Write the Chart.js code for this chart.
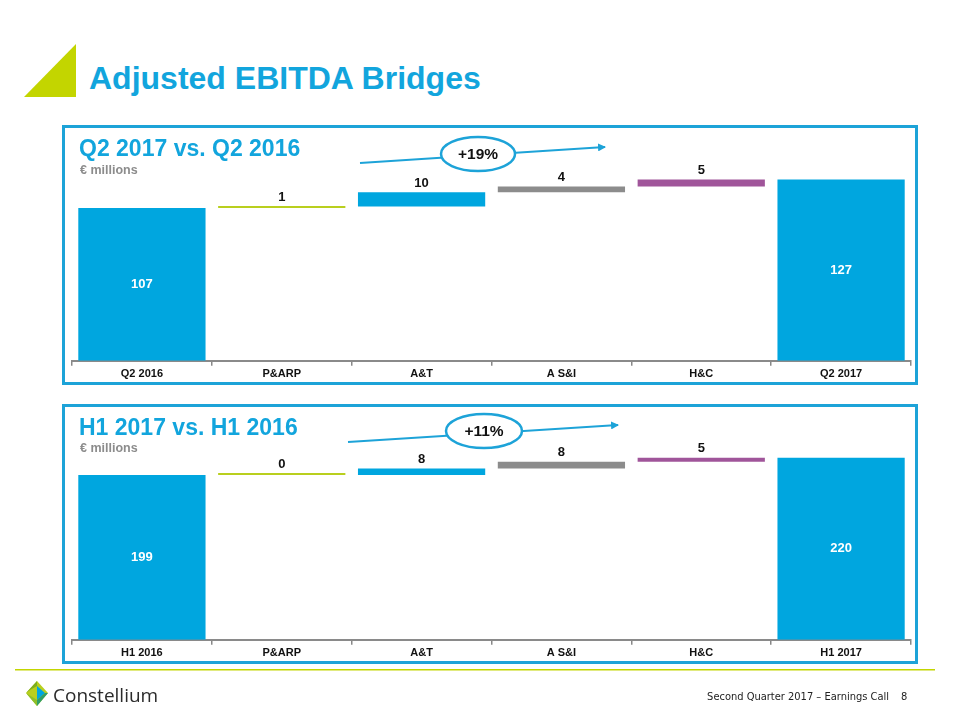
<!DOCTYPE html>
<html>
<head>
<meta charset="utf-8">
<script src="https://cdn.jsdelivr.net/npm/chart.js@4.4.1/dist/chart.umd.min.js"></script>
<style>
  html,body{margin:0;padding:0;background:#fff;}
  body{width:960px;height:720px;position:relative;overflow:hidden;font-family:"Liberation Sans",Arial,sans-serif;}
  .abs{position:absolute;}
  .box{position:absolute;border:3px solid #1DA3D8;box-sizing:border-box;}
  .sub{position:absolute;font-weight:bold;font-size:23px;color:#12A5DD;line-height:1;}
  .unit{position:absolute;font-weight:bold;font-size:12.5px;color:#8C8C8C;line-height:1;}
  canvas{position:absolute;}
</style>
</head>
<body>
<script>
// ---------- data ----------
const q2Categories = ["Q2 2016", "P&ARP", "A&T", "A S&I", "H&C", "Q2 2017"];
const q2Start = 107;
const q2Steps = [1, 10, 4, 5];
const q2End = 127;
const q2Growth = "+19%";

const h1Categories = ["H1 2016", "P&ARP", "A&T", "A S&I", "H&C", "H1 2017"];
const h1Start = 199;
const h1Steps = [0, 8, 8, 5];
const h1End = 220;
const h1Growth = "+11%";

const stepColors = ["#00A6DF", "#B9CF1E", "#00A6DF", "#8C8C8C", "#A0559A", "#00A6DF"];
</script>

<svg class="abs" style="left:0;top:0" width="960" height="720">
  <polygon points="24,97 76,44 76,97" fill="#C3D500"/>
  <rect x="15" y="669" width="920" height="1.5" fill="#C3D500"/>
  <!-- logo -->
  <g transform="translate(26,681)">
    <polygon points="11,0 22,12 11,25 0,12" fill="#B9CF1E"/>
    <polygon points="11,5 19,12 11,19" fill="#00A6DF"/>
    <polygon points="11,0 11,5 4,9 0,12" fill="#7FAE1E"/>
    <polygon points="0,12 11,19 11,25" fill="#8DBF2A"/>
    <polygon points="11,19 19,12 22,12 11,25" fill="#2F9E6A"/>
  </g>
</svg>
<div class="abs" style="left:89px;top:61px;font-size:32px;font-weight:bold;color:#12A5DD;line-height:1.1;">Adjusted EBITDA Bridges</div>

<div class="box" style="left:62px;top:125px;width:856px;height:260px;"></div>
<div class="box" style="left:62px;top:404px;width:856px;height:260px;"></div>

<canvas id="c1" width="850" height="255" style="left:65px;top:128px;width:850px;height:255px;"></canvas>
<canvas id="c2" width="850" height="255" style="left:65px;top:407px;width:850px;height:255px;"></canvas>

<div class="sub" style="left:79px;top:137px;">Q2 2017 vs. Q2 2016</div>
<div class="unit" style="left:80px;top:164px;">€ millions</div>
<div class="sub" style="left:79px;top:416px;">H1 2017 vs. H1 2016</div>
<div class="unit" style="left:80px;top:442px;">€ millions</div>

<svg class="abs" style="left:0;top:0" width="960" height="720">
  <defs>
    <marker id="ah" markerWidth="8" markerHeight="8" refX="7" refY="4" orient="auto" markerUnits="userSpaceOnUse">
      <path d="M0,0 L8,4 L0,8 z" fill="#1DA3D8"/>
    </marker>
  </defs>
  <line x1="360" y1="163" x2="605" y2="147" stroke="#1DA3D8" stroke-width="2" marker-end="url(#ah)"/>
  <ellipse cx="478" cy="154" rx="37" ry="17" fill="#fff" stroke="#1DA3D8" stroke-width="2.5"/>
  <line x1="348" y1="442" x2="618" y2="425" stroke="#1DA3D8" stroke-width="2" marker-end="url(#ah)"/>
  <ellipse cx="484" cy="431" rx="38" ry="17" fill="#fff" stroke="#1DA3D8" stroke-width="2.5"/>
</svg>
<div class="abs" id="g1" style="left:441px;top:144px;width:74px;text-align:center;font-weight:bold;font-size:15.5px;line-height:20px;color:#111;"></div>
<div class="abs" id="g2" style="left:446px;top:421px;width:76px;text-align:center;font-weight:bold;font-size:15.5px;line-height:20px;color:#111;"></div>

<div class="abs" style="left:53px;top:683px;font-family:'Open Sans','DejaVu Sans',sans-serif;font-size:19px;color:#2b2b2b;line-height:24px;">Constellium</div>
<div class="abs" style="left:600px;top:690px;width:289px;text-align:right;white-space:nowrap;font-family:'DejaVu Sans Condensed','Liberation Sans',sans-serif;font-size:11px;color:#222;line-height:14px;">Second Quarter 2017 – Earnings Call</div>
<div class="abs" style="left:901px;top:690px;font-family:'DejaVu Sans Condensed','Liberation Sans',sans-serif;font-size:11px;color:#222;line-height:14px;">8</div>

<script>
document.getElementById('g1').textContent = q2Growth;
document.getElementById('g2').textContent = h1Growth;

function bridgeData(start, steps, end){
  const out = [[0, start]];
  let run = start;
  steps.forEach(s => { out.push([run, run + s]); run += s; });
  out.push([0, end]);
  return out;
}

const labelPlugin = {
  id: 'bridgeLabels',
  afterDatasetsDraw(chart){
    const ctx = chart.ctx;
    const meta = chart.getDatasetMeta(0);
    const data = chart.data.datasets[0].data;
    const steps = chart.options.plugins.bridgeLabels.steps;
    ctx.save();
    ctx.textAlign = 'center';
    ctx.textBaseline = 'middle';
    ctx.font = 'bold 13px "Liberation Sans", Arial, sans-serif';
    meta.data.forEach((bar, i) => {
      const d = data[i];
      if (i === 0 || i === data.length - 1) {
        ctx.fillStyle = '#fff';
        ctx.fillText(String(d[1]), bar.x, (bar.y + bar.base) / 2);
      } else {
        ctx.fillStyle = '#111';
        const top = Math.min(bar.y, bar.base);
        ctx.fillText(String(steps[i - 1]), bar.x, top - 9);
      }
    });
    ctx.restore();
  }
};

function makeChart(id, cats, start, steps, end, ymax){
  return new Chart(document.getElementById(id), {
    type: 'bar',
    data: {
      labels: cats,
      datasets: [{
        data: bridgeData(start, steps, end),
        backgroundColor: stepColors,
        borderWidth: 0,
        minBarLength: 2,
        barPercentage: 0.91,
        categoryPercentage: 1.0
      }]
    },
    options: {
      responsive: false,
      animation: false,
      devicePixelRatio: 1,
      layout: { padding: { left: 7, right: 4, top: 20, bottom: 0 } },
      plugins: { legend: { display: false }, tooltip: { enabled: false }, bridgeLabels: { steps: steps } },
      scales: {
        x: {
          grid: { display: true, drawOnChartArea: false, drawTicks: true, tickLength: 5, offset: true, color: '#888', lineWidth: 1.5 },
          border: { display: true, color: '#8a8a8a', width: 2 },
          ticks: { color: '#111', padding: 2, font: { family: '"Liberation Sans", Arial', size: 11, weight: 'bold' } }
        },
        y: { display: false, min: 0, max: ymax }
      }
    },
    plugins: [labelPlugin]
  });
}

makeChart('c1', q2Categories, q2Start, q2Steps, q2End, 149);
makeChart('c2', h1Categories, h1Start, h1Steps, h1End, 257);
</script>
</body>
</html>
